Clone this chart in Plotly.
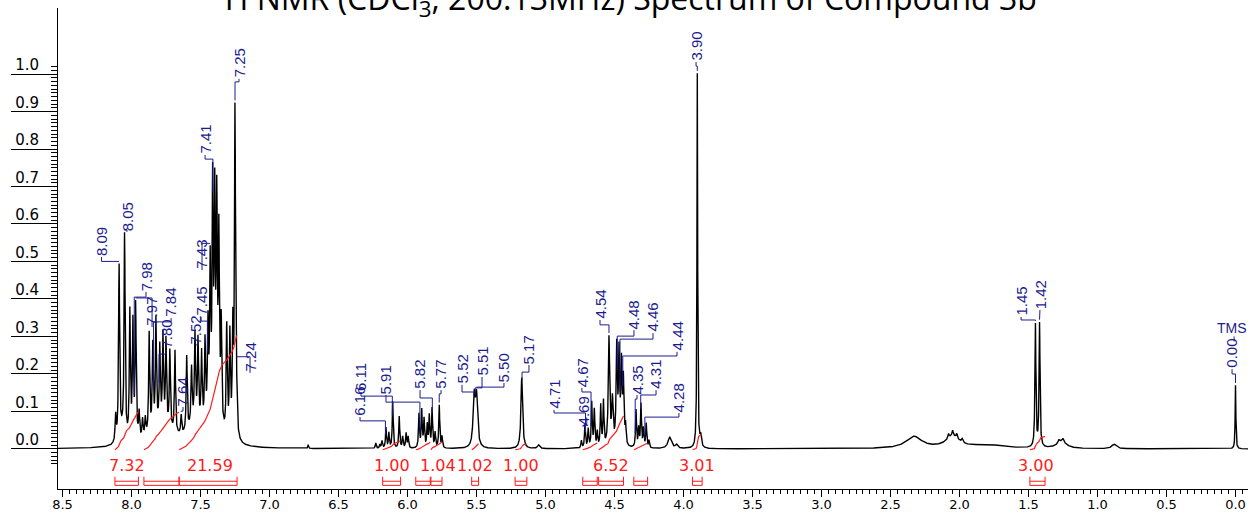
import numpy as np
import plotly.graph_objects as go

# ---------------- spectrum lines: shift (ppm), amplitude, half width (ppm) ----------------
line_ppm = [8.115, 8.09, 8.05, 8.012, 7.99, 7.97, 7.945, 7.92, 7.90,
            7.872, 7.846, 7.823, 7.795, 7.772, 7.75, 7.722, 7.685, 7.64,
            7.60, 7.565, 7.54, 7.518, 7.492, 7.467, 7.446, 7.43, 7.412, 7.397,
            7.382, 7.367, 7.35, 7.31, 7.287, 7.266, 7.25, 7.238,
            7.40, 7.78, 6.72, 6.23,
            6.20, 6.185, 6.156, 6.135, 6.107, 6.06, 6.035, 6.01, 5.995,
            5.917, 5.897, 5.88, 5.857, 5.842, 5.822, 5.80, 5.77, 5.75,
            5.517, 5.50, 5.172, 5.05,
            4.74, 4.714, 4.69, 4.665, 4.646, 4.625, 4.60, 4.58, 4.54, 4.515,
            4.484, 4.467, 4.45, 4.436, 4.42, 4.344, 4.325, 4.308, 4.29, 4.27, 4.25,
            4.10, 4.05, 3.90, 3.875,
            2.33, 2.05, 2.08, 2.05, 2.02, 1.98, 1.80,
            1.45, 1.42, 1.26, 1.28, 1.25, 0.88, 0.00,
            7.54, 8.07]
line_amp = [0.07, 0.465, 0.545, 0.34, 0.31, 0.36, 0.07, 0.05, 0.05,
            0.27, 0.23, 0.29, 0.21, 0.24, 0.23, 0.21, 0.22, 0.05,
            0.20, 0.15, 0.23, 0.22, 0.19, 0.22, 0.25, 0.40, 0.59, 0.55,
            0.55, 0.48, 0.27, 0.29, 0.27, 0.28, 0.88, 0.08,
            0.07, 0.05, 0.01, 0.015,
            0.01, 0.02, 0.055, 0.04, 0.125, 0.085, 0.03, 0.04, 0.03,
            0.09, 0.10, 0.075, 0.06, 0.085, 0.105, 0.04, 0.115, 0.03,
            0.13, 0.13, 0.19, 0.01,
            0.02, 0.065, 0.05, 0.12, 0.10, 0.04, 0.11, 0.12, 0.29, 0.12,
            0.26, 0.24, 0.21, 0.17, 0.05, 0.10, 0.05, 0.115, 0.05, 0.065, 0.02,
            0.03, 0.01, 1.00, 0.03,
            0.032, 0.03, 0.012, 0.015, 0.012, 0.01, 0.01,
            0.33, 0.33, 0.02, 0.008, 0.008, 0.012, 0.17,
            0.05, 0.03]
line_hw = [0.0045] * 36 + [0.05, 0.10, 0.003, 0.004] + \
          [0.004] * 18 + [0.009, 0.009, 0.007, 0.01] + \
          [0.004] * 8 + [0.006, 0.006, 0.005, 0.005, 0.005, 0.005] + [0.004] * 7 + \
          [0.015, 0.01, 0.003, 0.006] + \
          [0.07, 0.06, 0.005, 0.005, 0.005, 0.006, 0.15] + \
          [0.004, 0.004, 0.04, 0.005, 0.005, 0.02, 0.003] + \
          [0.06, 0.02]

# ---------------- peak picking labels ----------------
peak_text = ["8.09", "8.05", "7.98", "7.97", "7.84", "7.80", "7.64", "7.52", "7.45",
             "7.43", "7.41", "7.25", "7.24", "6.16", "6.11", "5.91", "5.82", "5.77",
             "5.52", "5.51", "5.50", "5.17", "4.71", "4.69", "4.67", "4.54", "4.48",
             "4.46", "4.44", "4.35", "4.31", "4.28", "3.90", "1.45", "1.42", "0.00"]
peak_shift = [float(t) for t in peak_text]
# label placement: x of the rotated text (ppm), bottom of text, elbow of leader
label_x = [8.217, 8.033, 7.895, 7.851, 7.713, 7.750, 7.627, 7.533, 7.496,
           7.489, 7.467, 7.221, 7.141, 6.344, 6.337, 6.156, 5.909, 5.757,
           5.605, 5.460, 5.301, 5.120, 4.938, 4.728, 4.736, 4.605, 4.359,
           4.221, 4.047, 4.337, 4.199, 4.033, 3.909, 1.554, 1.417, 0.025]
label_bottom = [0.512, 0.579, 0.419, 0.325, 0.349, 0.264, 0.112, 0.277, 0.352,
                0.477, 0.784, 0.987, 0.203, 0.085, 0.152, 0.144, 0.157, 0.157,
                0.171, 0.192, 0.176, 0.224, 0.104, 0.059, 0.163, 0.344, 0.317,
                0.309, 0.259, 0.144, 0.157, 0.096, 1.032, 0.352, 0.371, 0.213]
label_elbow = [0.499, 0.571, 0.405, 0.315, 0.339, 0.253, 0.101, 0.267, 0.341,
               0.467, 0.773, 0.979, 0.189, 0.075, 0.141, 0.125, 0.136, 0.147,
               0.152, 0.163, 0.157, 0.205, 0.096, 0.051, 0.152, 0.331, 0.301,
               0.293, 0.248, 0.133, 0.144, 0.085, 1.021, 0.344, 0.360, 0.200]

# ---------------- integrals ----------------
int_start = [8.12, 7.91, 7.655, 6.18, 5.94, 5.83, 5.535, 5.22, 4.73, 4.615, 4.36, 3.935, 1.49]
int_end = [7.95, 7.655, 7.235, 6.05, 5.835, 5.75, 5.485, 5.135, 4.625, 4.435, 4.26, 3.865, 1.38]
int_rise = [0.10, 0.10, 0.305, 0.024, 0.02, 0.02, 0.016, 0.015, 0.018, 0.09, 0.018, 0.04, 0.035]
int_text = ["7.32", "21.59", "1.00", "1.04", "1.02", "1.00", "6.52", "3.01", "3.00"]
int_text_x = [8.033, 7.431, 6.112, 5.778, 5.513, 5.178, 4.525, 3.902, 1.446]

x_ticks = [8.5, 8.0, 7.5, 7.0, 6.5, 6.0, 5.5, 5.0, 4.5, 4.0, 3.5, 3.0, 2.5, 2.0, 1.5, 1.0, 0.5, 0.0]
y_ticks = [0.0, 0.1, 0.2, 0.3, 0.4, 0.5, 0.6, 0.7, 0.8, 0.9, 1.0]

NAVY = "#1c1c8f"
RED = "#ff1a1a"

# ---------------- build the spectrum ----------------
ppm = np.arange(8.54, -0.095, -0.0008)
spec = np.zeros_like(ppm)
for p, a, w in zip(line_ppm, line_amp, line_hw):
    spec += a / (1.0 + ((ppm - p) / w) ** 2)


def spec_at(x):
    return float(np.interp(-x, -ppm, spec))


fig = go.Figure()
fig.add_trace(go.Scatter(x=ppm, y=spec, mode="lines",
                         line=dict(color="black", width=1.4), hoverinfo="skip"))

# integral curves (cumulative area across each region)
ix, iy = [], []
for a, b, h in zip(int_start, int_end, int_rise):
    m = (ppm <= a) & (ppm >= b)
    seg = np.cumsum(spec[m])
    seg = seg / seg[-1]
    ix += list(ppm[m]) + [None]
    iy += list(-0.002 + h * seg) + [None]
fig.add_trace(go.Scatter(x=ix, y=iy, mode="lines", line=dict(color=RED, width=1.2),
                         hoverinfo="skip"))

# integral brackets
bx, by = [], []
top_b, mid_b, low_b = -0.074, -0.086, -0.097
for a, b in zip(int_start, int_end):
    bx += [a, a, b, b, None, a, b, None]
    by += [top_b, low_b, low_b, top_b, None, mid_b, mid_b, None]
fig.add_trace(go.Scatter(x=bx, y=by, mode="lines", line=dict(color=RED, width=1),
                         hoverinfo="skip"))

# peak label leaders
lx, ly = [], []
for p, xl, yb, ye in zip(peak_shift, label_x, label_bottom, label_elbow):
    ytop = spec_at(p) + 0.006
    ye = max(ye, ytop)
    lx += [xl, xl, p, p, None]
    ly += [yb, ye, ye, ytop, None]
lx += [0.01, 0.01, None]
ly += [0.3, 0.287, None]
fig.add_trace(go.Scatter(x=lx, y=ly, mode="lines", line=dict(color=NAVY, width=1),
                         hoverinfo="skip"))

ann = []
for t, xl, yb in zip(peak_text, label_x, label_bottom):
    ann.append(dict(x=xl, y=yb, text=t, textangle=-90, showarrow=False,
                    xanchor="center", yanchor="bottom", borderpad=0,
                    font=dict(family="Liberation Sans Narrow, Liberation Sans", size=15,
                              color=NAVY)))
ann.append(dict(x=0.025, y=0.323, text="TMS", showarrow=False, xanchor="center",
                yanchor="middle", font=dict(family="Liberation Sans", size=14, color=NAVY)))
for t, xp in zip(int_text, int_text_x):
    ann.append(dict(x=xp, y=-0.045, text=t, showarrow=False, xanchor="center",
                    yanchor="middle", font=dict(family="DejaVu Sans", size=16, color=RED)))
ann.append(dict(xref="paper", yref="paper", x=0.476, y=1.02, xanchor="center",
                yanchor="middle", showarrow=False,
                text="<sup>1</sup>H NMR (CDCl<sub>3</sub>, 200.13MHz) Spectrum of Compound 3b",
                font=dict(family="Open Sans", size=32, color="black")))

fig.update_layout(
    width=1250, height=513, margin=dict(l=58, r=2, t=8, b=24),
    paper_bgcolor="white", plot_bgcolor="white", showlegend=False,
    annotations=ann,
    xaxis=dict(range=[8.5326, -0.0906], tickmode="array", tickvals=x_ticks,
               ticktext=["%.1f" % v for v in x_ticks], ticks="outside", ticklen=7,
               tickcolor="black", showline=True, linecolor="black", linewidth=1,
               showgrid=False, zeroline=False, automargin=False,
               ticklabelstandoff=-4,
               tickfont=dict(family="DejaVu Sans", size=13, color="black"),
               minor=dict(tickmode="array", tickvals=list(np.round(np.arange(-0.05, 8.55, 0.05), 2)),
                          ticks="outside", ticklen=4, tickcolor="black")),
    yaxis=dict(range=[-0.1067, 1.176], tickmode="array", tickvals=y_ticks,
               ticktext=["%.1f" % v for v in y_ticks], ticks="outside", ticklen=46,
               tickcolor="black", showline=True, linecolor="black", linewidth=1,
               showgrid=False, zeroline=False, automargin=False,
               ticklabelshift=-9, ticklabelstandoff=-31,
               tickfont=dict(family="DejaVu Sans", size=15, color="black"),
               minor=dict(tickmode="array", tickvals=list(np.round(np.arange(-0.04, 1.025, 0.01), 2)),
                          ticks="outside", ticklen=6, tickcolor="black")),
)

fig.write_html("out.html")
